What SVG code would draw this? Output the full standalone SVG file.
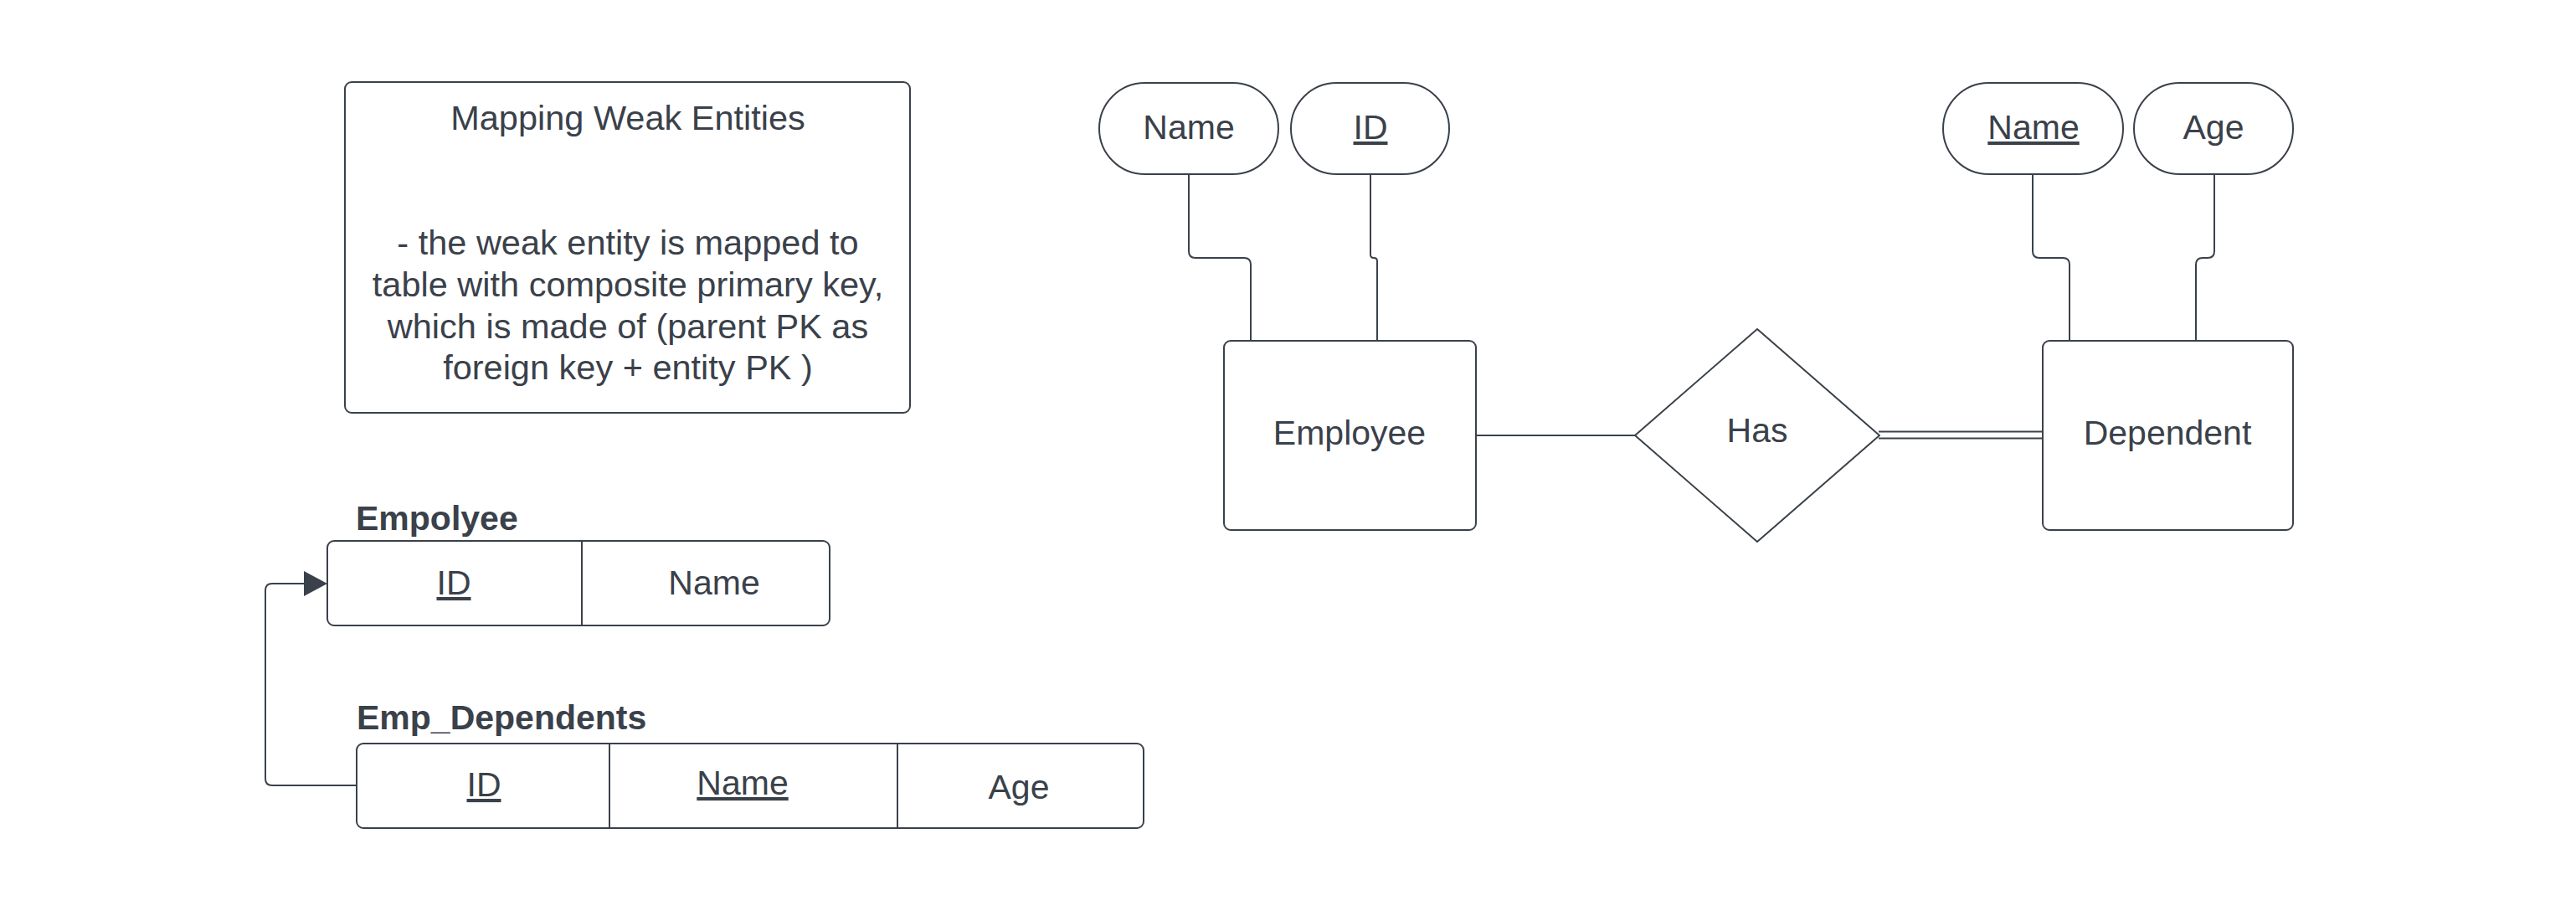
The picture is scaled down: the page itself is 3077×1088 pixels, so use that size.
<svg xmlns="http://www.w3.org/2000/svg" width="3077" height="1088" viewBox="0 0 3077 1088">
<style>
.s{fill:#ffffff;stroke:#3a414a;stroke-width:2}
.c{fill:none;stroke:#3a414a;stroke-width:2}
.t{font-family:"Liberation Sans",Arial,sans-serif;font-size:41px;fill:#3a414a;text-anchor:middle}
.m{font-size:41.5px}
.b{font-family:"Liberation Sans",Arial,sans-serif;font-size:41px;font-weight:bold;fill:#3a414a}
.u{text-decoration:underline}
</style>
<rect width="3077" height="1088" fill="#ffffff"/>
<g id="note">
<rect class="s" x="412" y="98" width="675" height="395" rx="8"/>
<text class="t m" x="750" y="155">Mapping Weak Entities</text>
<text class="t m" x="750" y="304">- the weak entity is mapped to</text>
<text class="t m" x="750" y="354">table with composite primary key,</text>
<text class="t m" x="750" y="404">which is made of (parent PK as</text>
<text class="t m" x="750" y="453">foreign key + entity PK )</text>
</g>
<g id="table-empolyee">
<text class="b" x="425" y="633">Empolyee</text>
<rect class="s" x="391" y="646" width="600" height="101" rx="8"/>
<line class="c" x1="695" y1="646" x2="695" y2="747"/>
<text class="t u" x="542" y="710">ID</text>
<text class="t" x="853" y="710">Name</text>
</g>
<g id="table-emp-dependents">
<text class="b" x="426" y="871">Emp_Dependents</text>
<rect class="s" x="426" y="888" width="940" height="101" rx="8"/>
<line class="c" x1="728" y1="888" x2="728" y2="989" stroke-width="1.5"/>
<line class="c" x1="1072" y1="888" x2="1072" y2="989" stroke-width="1.5"/>
<text class="t u" x="578" y="951">ID</text>
<text class="t u" x="887" y="949">Name</text>
<text class="t" x="1217" y="954">Age</text>
</g>
<g id="attr-emp-name">
<rect class="s" x="1313" y="99" width="214" height="109" rx="54.5"/>
<text class="t" x="1420" y="166">Name</text>
</g>
<g id="attr-emp-id">
<rect class="s" x="1542" y="99" width="189" height="109" rx="54.5"/>
<text class="t u" x="1637" y="166">ID</text>
</g>
<g id="attr-dep-name">
<rect class="s" x="2321" y="99" width="215" height="109" rx="54.5"/>
<text class="t u" x="2429" y="166">Name</text>
</g>
<g id="attr-dep-age">
<rect class="s" x="2549" y="99" width="190" height="109" rx="54.5"/>
<text class="t" x="2644" y="166">Age</text>
</g>
<g id="employee">
<rect class="s" x="1462" y="407" width="301" height="226" rx="8"/>
<text class="t" x="1612" y="531">Employee</text>
</g>
<g id="has">
<polygon class="s" points="1953,520 2099,393 2245,520 2099,647" stroke-linejoin="round"/>
<text class="t" x="2099" y="528">Has</text>
</g>
<g id="dependent">
<rect class="s" x="2440" y="407" width="299" height="226" rx="8"/>
<text class="t" x="2589" y="531">Dependent</text>
</g>
<g id="connectors">
<path class="c" d="M1420 208 V300 Q1420 308 1428 308 H1486 Q1494 308 1494 316 V407"/>
<path class="c" d="M1637 208 V304 Q1637 308 1641 308 Q1645 308 1645 312 V407"/>
<path class="c" d="M2428 208 V300 Q2428 308 2436 308 H2464 Q2472 308 2472 316 V407"/>
<path class="c" d="M2645 208 V300 Q2645 308 2637 308 H2631 Q2623 308 2623 316 V407"/>
<line class="c" x1="1763" y1="520" x2="1953" y2="520"/>
<line class="c" x1="2244" y1="515.5" x2="2440" y2="515.5" stroke-width="4"/>
<line class="c" x1="2244" y1="523.5" x2="2440" y2="523.5" stroke-width="4"/>
<path class="c" d="M426 938 H325 Q317 938 317 930 V705 Q317 697 325 697 H365"/>
<polygon points="363,682 391,697 363,712" fill="#3a414a"/>
</g>
</svg>
